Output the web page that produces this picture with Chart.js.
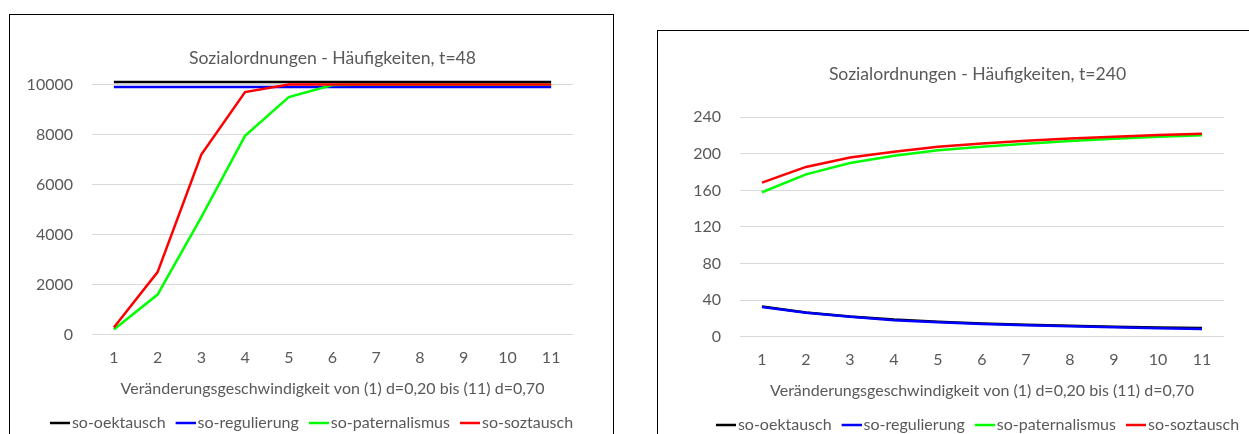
<!DOCTYPE html>
<html>
<head>
<meta charset="utf-8">
<script src="https://cdn.jsdelivr.net/npm/chart.js@4.4.1/dist/chart.umd.min.js"></script>
<style>
html,body{margin:0;padding:0;background:#fff;overflow:hidden;width:1249px;height:434px;}
.box{position:absolute;border:1px solid #000;background:#fff;}
#box48{left:9px;top:14px;width:603px;height:440px;}
#box240{left:657px;top:30px;width:639px;height:440px;}
canvas{position:absolute;left:0;top:0;}
</style>
</head>
<body>
<div class="box" id="box48"><canvas id="c48" width="603" height="426"></canvas></div>
<div class="box" id="box240"><canvas id="c240" width="639" height="412"></canvas></div>
<script>
// x: Veränderungsgeschwindigkeit (1) d=0,20 ... (11) d=0,70
const labels = ['1','2','3','4','5','6','7','8','9','10','11'];
const seriesNames = ['so-oektausch','so-regulierung','so-paternalismus','so-soztausch'];
const seriesColors = ['#000000','#0000ff','#00ff00','#ff0000'];

// t=48
const oek48 = [10100,10100,10100,10100,10100,10100,10100,10100,10100,10100,10100];
const reg48 = [9900,9900,9900,9900,9900,9900,9900,9900,9900,9900,9900];
const pat48 = [200,1600,4700,7950,9500,9980,10000,10000,10000,10000,10000];
const soz48 = [280,2500,7200,9700,10000,10000,10000,10000,10000,10000,10000];

// t=240
const oek240 = [33,26.5,22,18.6,16.3,14.4,12.9,11.8,10.8,9.9,9.4];
const reg240 = [32.5,26,21.6,18,15.7,13.9,12.4,11.3,10.2,9.1,8.4];
const pat240 = [158,177.6,190,198,204,207.7,211.2,214,216.6,218.6,220.3];
const soz240 = [168.5,185.7,196,202.2,207.7,211.4,214.3,216.9,218.7,220.6,222];

const textColor = '#595959';
const font = {family: 'Lato', size: 16, weight: 'normal'};
const titleFont = {family: 'Lato', size: 17.6, weight: 'normal'};

// legend marker: 20px line, drawn so that the text follows close behind it
function legendLine(color){
    const c = document.createElement('canvas');
    c.width = 26; c.height = 6;
    const g = c.getContext('2d');
    g.strokeStyle = color;
    g.lineWidth = 2.5;
    g.beginPath(); g.moveTo(6, 3); g.lineTo(26, 3); g.stroke();
    return c;
}

function makeChart(id, title, values, yMax, yStep, rightGap, titleBottom, titleFull){
    const ctx = document.getElementById(id).getContext('2d');
    new Chart(ctx, {
        type: 'line',
        data: {
            labels: labels,
            datasets: values.map((v, i) => ({
                label: seriesNames[i],
                data: v,
                borderColor: seriesColors[i],
                backgroundColor: seriesColors[i],
                borderWidth: 2.5,
                pointRadius: 0,
                pointStyle: legendLine(seriesColors[i]),
                tension: 0,
                clip: false,
                order: 4 - i
            }))
        },
        options: {
            responsive: false,
            animation: false,
            layout: { padding: 0 },
            scales: {
                x: {
                    type: 'category',
                    offset: true,
                    grid: { display: false, drawTicks: false },
                    border: { display: false },
                    ticks: { color: textColor, font: font, padding: 14, maxRotation: 0 },
                    title: { display: true, text: 'Veränderungsgeschwindigkeit von (1) d=0,20 bis (11) d=0,70',
                             color: textColor, font: font, padding: { top: -3, bottom: 7 } }
                },
                y: {
                    min: 0, max: yMax,
                    grid: { color: '#d9d9d9', lineWidth: 1, drawTicks: false },
                    border: { display: false },
                    ticks: { stepSize: yStep, color: textColor, font: font, padding: 19,
                             callback: v => String(v) },
                    afterFit: s => { s.width = 82; }
                },
                gap: {
                    position: 'right',
                    grid: { display: false, drawTicks: false },
                    border: { display: false },
                    ticks: { display: false },
                    afterFit: s => { s.width = rightGap; }
                }
            },
            plugins: {
                title: {
                    display: true, text: title, color: textColor, font: titleFont,
                    fullSize: titleFull, padding: { top: 33, bottom: titleBottom }
                },
                legend: {
                    position: 'bottom',
                    labels: {
                        color: textColor, font: font, padding: 10,
                        usePointStyle: true, pointStyleWidth: 14,
                        sort: (a, b) => a.datasetIndex - b.datasetIndex
                    }
                },
                tooltip: { enabled: false }
            }
        }
    });
}

makeChart('c48', 'Sozialordnungen - Häufigkeiten, t=48', [oek48, reg48, pat48, soz48], 10000, 2000, 40, 15.4, false);
makeChart('c240', 'Sozialordnungen - Häufigkeiten, t=240', [oek240, reg240, pat240, soz240], 240, 40, 73, 32.2, true);
</script>
</body>
</html>
